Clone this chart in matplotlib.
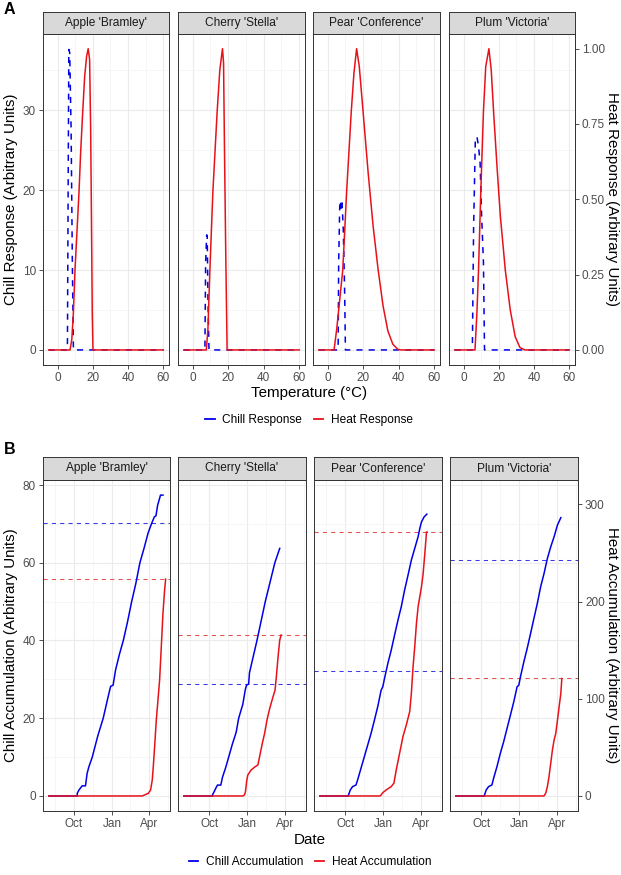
import numpy as np
import pandas as pd
import matplotlib
matplotlib.use('Agg')
import matplotlib.pyplot as plt
from matplotlib.lines import Line2D
from matplotlib.ticker import FixedLocator

plt.rcParams['font.family'] = ['Liberation Sans', 'DejaVu Sans']

# ---------------- data ----------------
cultivars = ["Apple 'Bramley'", "Cherry 'Stella'", "Pear 'Conference'", "Plum 'Victoria'"]

# Panel A: response curves vs temperature (deg C)
apple_chill_T = [-5, 5.6, 6.0, 6.4, 6.9, 7.7, 8.4, 9.0, 60]
apple_chill_v = [0, 0, 19.3, 37.6, 37.2, 27.6, 10.9, 0, 0]
apple_heat_T = [-5, 7.1, 8.1, 9.0, 9.9, 11.1, 12.2, 13.1, 14.3, 15.4, 16.5, 17.4, 18.2, 18.8, 19.3, 19.7, 20.1, 60]
apple_heat_v = [0, 0, 0.035, 0.124, 0.265, 0.40, 0.527, 0.654, 0.792, 0.908, 0.975, 1.0, 0.964, 0.731, 0.40, 0.124, 0, 0]

cherry_chill_T = [-5, 6.9, 7.3, 7.9, 8.2, 8.6, 9.2, 60]
cherry_chill_v = [0, 0, 10.9, 14.4, 14.3, 6.6, 0, 0]
cherry_heat_T = [-5, 7.7, 8.6, 9.7, 11.4, 13.8, 15.3, 16.8, 17.4, 17.9, 18.7, 19.4, 60]
cherry_heat_v = [0, 0, 0.069, 0.265, 0.527, 0.792, 0.930, 1.0, 0.952, 0.676, 0.29, 0, 0]

pear_chill_T = [-5, 5.9, 6.2, 6.8, 7.2, 7.5, 8.1, 8.8, 9.6, 10.0, 60]
pear_chill_v = [0, 0, 10.9, 18.0, 18.7, 17.6, 18.4, 15.1, 6.8, 0, 0]
pear_heat_T = [-5, 3.6, 5.1, 7.0, 8.5, 10.7, 13.3, 14.8, 16.3, 17.8, 20.0, 22.8, 25.6, 28.4, 31.2, 33.9, 36.7, 39.5, 41.4, 60]
pear_heat_v = [0, 0, 0.069, 0.179, 0.265, 0.527, 0.792, 0.919, 1.0, 0.941, 0.787, 0.588, 0.411, 0.267, 0.146, 0.063, 0.019, 0.002, 0, 0]

plum_chill_T = [-5, 5.0, 5.7, 6.7, 7.6, 8.5, 9.4, 10.2, 11.3, 11.9, 60]
plum_chill_v = [0, 0, 15.1, 26.4, 26.7, 25.5, 23.4, 17.2, 10.9, 0, 0]
plum_heat_T = [-5, 6.5, 7.6, 8.5, 9.8, 11.3, 12.6, 14.4, 15.7, 17.2, 19.1, 20.9, 23.7, 26.5, 29.3, 32.0, 34.8, 60]
plum_heat_v = [0, 0, 0.124, 0.265, 0.527, 0.792, 0.941, 1.0, 0.930, 0.776, 0.599, 0.444, 0.265, 0.133, 0.044, 0.008, 0, 0]

# Panel B: accumulation vs date (days after 1 October)
apple_chill_d = [-61, 8, 8.1, 12, 20, 28, 32, 36, 44.5, 58, 71, 84, 89, 95, 101, 110, 120, 130, 140, 150, 160, 170, 180, 188, 195, 199, 203, 210, 216]
apple_chill_acc = [0, 0, 0.7, 1.5, 2.6, 2.6, 5.8, 7.4, 10, 15.5, 20, 26, 28.2, 28.5, 32.4, 36.3, 40.1, 44.8, 50, 54.6, 60, 63.7, 67.7, 70, 71.8, 72.1, 74.8, 77.4, 77.4]
apple_heat_d = [-61, 165.8, 180.3, 186, 190, 192.5, 195.7, 199.8, 203.8, 207.8, 211.9, 215.9, 219.9, 222.4]
apple_heat_acc = [0, 0, 2.7, 6.2, 16.5, 30.2, 50.7, 78.2, 98.7, 119.3, 153.6, 187.8, 211.8, 223.1]

cherry_chill_d = [-61, 8.1, 8.1, 12, 16, 20, 28, 32, 40, 48, 56, 65, 71, 81, 87, 90, 95, 97, 115, 135, 158, 169.8]
cherry_chill_acc = [0, 0, 0.3, 1.1, 2, 2.8, 2.8, 4.8, 7.4, 10.4, 13.4, 16.4, 20, 23.6, 27.4, 28.5, 28.8, 31.7, 40, 50, 60, 63.7]
cherry_heat_d = [-61, 80.9, 84.9, 87.3, 90.6, 93, 101.1, 109.2, 117.3, 121.3, 127.8, 133.4, 139.1, 145.6, 153.6, 158.5, 161.7, 165.8, 169.8, 173]
cherry_heat_acc = [0, 0, 1, 4.4, 16.4, 21.6, 26.8, 29.6, 32, 40.4, 54, 64.4, 78, 90, 102, 108.8, 122.8, 143.2, 160.4, 165.6]

pear_chill_d = [-61, 8.1, 8.1, 12.1, 17.8, 25.9, 29.9, 38, 46.1, 54.2, 62.3, 70.4, 78.4, 86.5, 90.6, 94.6, 102.7, 110.8, 118.9, 127, 135, 143.1, 151.2, 159.3, 167.4, 175.5, 179.5, 183.6, 190, 196.5]
pear_chill_acc = [0, 0, 0.26, 1.5, 2.4, 2.8, 4.1, 7.1, 10.1, 13.1, 16.1, 19.5, 23, 27.2, 28.1, 30.2, 34.1, 37.5, 41.4, 45.2, 48.7, 53, 56.8, 60.7, 63.7, 66.7, 68.8, 70.5, 71.8, 72.5]
pear_heat_d = [-61, 84.1, 86.5, 90.6, 98.7, 110.8, 117.3, 122.9, 131, 139.1, 147.2, 155.3, 159.3, 163.3, 167.4, 171.5, 175.5, 179.5, 183.6, 187.6, 191.7, 195.7, 197.3]
pear_heat_acc = [0, 0, 1.0, 3.4, 6.2, 9.6, 13.2, 26.8, 44, 61.2, 73.2, 86.8, 105.6, 132.8, 153.6, 177.6, 194.8, 204.8, 215.2, 228.8, 249.6, 271.6, 271.6]

plum_chill_d = [-61, 8.1, 8.1, 12.1, 17.8, 25.9, 29.9, 38, 46.1, 54.2, 62.3, 70.4, 78.4, 86.5, 90.6, 94.6, 102.7, 110.8, 118.9, 127, 135, 143.1, 151.2, 159.3, 167.4, 175.5, 183.6, 191.7]
plum_chill_acc = [0, 0, 0.26, 1.54, 2.4, 2.83, 4.54, 7.54, 10.97, 13.97, 17.4, 20.8, 24.2, 28.1, 28.5, 30.7, 34.5, 38, 41.8, 45.7, 49.5, 53.8, 57.2, 61.1, 64.1, 66.7, 69.7, 71.6]
plum_heat_d = [-61, 151.2, 155.3, 159.3, 163.3, 167.4, 171.4, 175.5, 179.5, 183.6, 187.6, 191.7, 194.1]
plum_heat_acc = [0, 0, 2.8, 9.6, 20, 33.6, 47.2, 57.6, 64.4, 78, 92, 105.6, 120.8]

# requirement thresholds
chill_requirement = [70.3, 28.8, 32.2, 60.7]
heat_requirement = [223.0, 165.6, 271.6, 121.0]

# ---------------- layout ----------------
W, H = 621, 875
BLUE = '#0000E6'
RED = '#E8111A'
BLUE_T = '#3A3AE8'
RED_T = '#E85050'
BORDER = '#333333'
TICKLAB = '#4D4D4D'
TICK_FS = 8.5
TITLE_FS = 10.9
HEAT_RESP_SCALE = 37.7   # chill units per heat-response unit (panel A)
HEAT_ACC_SCALE = 4.0     # heat units per chill unit (panel B)

fig = plt.figure(figsize=(W / 100, H / 100), dpi=100)
fig.patch.set_facecolor('white')


def rect(l, t, r, b):
    return [l / W, 1 - b / H, (r - l) / W, (b - t) / H]


def style(ax):
    ax.set_facecolor('white')
    for s in ax.spines.values():
        s.set_color(BORDER)
        s.set_linewidth(0.7)
    ax.grid(which='major', color='#EBEBEB', lw=0.8)
    ax.grid(which='minor', color='#F3F3F3', lw=0.5)
    ax.set_axisbelow(True)
    ax.tick_params(which='major', length=3, width=0.6, color=BORDER,
                   labelsize=TICK_FS, labelcolor=TICKLAB, pad=2)
    ax.tick_params(which='minor', length=0)


def strip(r, text):
    sa = fig.add_axes(r)
    sa.set_facecolor('#D9D9D9')
    sa.set_xticks([])
    sa.set_yticks([])
    for s in sa.spines.values():
        s.set_color(BORDER)
        s.set_linewidth(0.7)
    sa.text(0.5, 0.5, text, ha='center', va='center', fontsize=8.6,
            color='#1A1A1A', transform=sa.transAxes)


def style_sec(sec):
    sec.tick_params(length=3, width=0.6, color=BORDER, labelsize=TICK_FS,
                    labelcolor=TICKLAB, pad=2)
    sec.spines['right'].set_color(BORDER)
    sec.spines['right'].set_linewidth(0.7)


# ---------- Panel A ----------
colsA = [(43, 169), (178, 305), (313, 440), (449, 575)]
topA, botA, stripA = 33.5, 365, 12
chill_T = [apple_chill_T, cherry_chill_T, pear_chill_T, plum_chill_T]
chill_v = [apple_chill_v, cherry_chill_v, pear_chill_v, plum_chill_v]
heat_T = [apple_heat_T, cherry_heat_T, pear_heat_T, plum_heat_T]
heat_v = [apple_heat_v, cherry_heat_v, pear_heat_v, plum_heat_v]

for i, (l, r) in enumerate(colsA):
    ax = fig.add_axes(rect(l, topA, r, botA))
    style(ax)
    ax.plot(chill_T[i], chill_v[i], color=BLUE, lw=1.1, ls=(0, (4, 4)))
    ax.plot(heat_T[i], np.array(heat_v[i]) * HEAT_RESP_SCALE, color=RED, lw=1.1)
    ax.set_xlim(-8.25, 63.25)
    ax.set_ylim(-1.885, 39.6)
    ax.xaxis.set_major_locator(FixedLocator([0, 20, 40, 60]))
    ax.xaxis.set_minor_locator(FixedLocator([10, 30, 50]))
    ax.yaxis.set_major_locator(FixedLocator([0, 10, 20, 30]))
    ax.yaxis.set_minor_locator(FixedLocator([5, 15, 25, 35]))
    if i > 0:
        ax.tick_params(axis='y', left=False, labelleft=False)
    if i == 3:
        sec = ax.secondary_yaxis('right', functions=(lambda y: y / HEAT_RESP_SCALE,
                                                      lambda h: h * HEAT_RESP_SCALE))
        sec.set_yticks([0, 0.25, 0.5, 0.75, 1.0])
        sec.set_yticklabels(['0.00', '0.25', '0.50', '0.75', '1.00'])
        style_sec(sec)
    strip(rect(l, stripA, r, topA), cultivars[i])

fig.text(4 / W, 1 - 10 / H, 'A', fontsize=11.5, fontweight='bold', va='center', ha='left')
fig.text(11 / W, 1 - (topA + botA) / 2 / H, 'Chill Response (Arbitrary Units)',
         rotation=90, va='center', ha='center', fontsize=TITLE_FS)
fig.text(612 / W, 1 - (topA + botA) / 2 / H, 'Heat Response (Arbitrary Units)',
         rotation=-90, va='center', ha='center', fontsize=TITLE_FS)
fig.text(309 / W, 1 - 393 / H, 'Temperature (°C)', va='center', ha='center', fontsize=TITLE_FS)

hA = [Line2D([], [], color=BLUE, lw=1.3), Line2D([], [], color=RED, lw=1.3)]
fig.legend(hA, ['Chill Response', 'Heat Response'], loc='center',
           bbox_to_anchor=(309 / W, 1 - 420 / H), ncol=2, frameon=False,
           fontsize=8.6, handlelength=0.8, columnspacing=1.0, handletextpad=0.6)

# ---------- Panel B ----------
colsB = [(43, 170), (178, 306), (314, 442), (450, 578)]
topB, botB, stripB = 480, 811, 457
base = pd.Timestamp('2018-10-01')


def to_dates(days):
    return base + pd.to_timedelta(np.array(days, dtype=float), unit='D')


chill_d = [apple_chill_d, cherry_chill_d, pear_chill_d, plum_chill_d]
chill_acc = [apple_chill_acc, cherry_chill_acc, pear_chill_acc, plum_chill_acc]
heat_d = [apple_heat_d, cherry_heat_d, pear_heat_d, plum_heat_d]
heat_acc = [apple_heat_acc, cherry_heat_acc, pear_heat_acc, plum_heat_acc]

major_dates = [pd.Timestamp('2018-10-01'), pd.Timestamp('2019-01-01'), pd.Timestamp('2019-04-01')]
minor_dates = [pd.Timestamp('2018-08-16'), pd.Timestamp('2018-11-16'),
               pd.Timestamp('2019-02-15'), pd.Timestamp('2019-05-16')]

for i, (l, r) in enumerate(colsB):
    ax = fig.add_axes(rect(l, topB, r, botB))
    ax.axhline(chill_requirement[i], color=BLUE_T, lw=0.75, ls=(0, (4, 4)))
    ax.axhline(heat_requirement[i] / HEAT_ACC_SCALE, color=RED_T, lw=0.75, ls=(0, (4, 4)))
    ax.plot(to_dates(chill_d[i]), chill_acc[i], color=BLUE, lw=1.1)
    ax.plot(to_dates(heat_d[i]), np.array(heat_acc[i]) / HEAT_ACC_SCALE, color=RED, lw=1.1)
    ax.set_xlim(pd.Timestamp('2018-07-18'), pd.Timestamp('2019-05-22'))
    ax.set_ylim(-3.87, 81.29)
    ax.set_xticks(major_dates)
    ax.set_xticklabels(['Oct', 'Jan', 'Apr'])
    ax.set_xticks(minor_dates, minor=True)
    ax.yaxis.set_major_locator(FixedLocator([0, 20, 40, 60, 80]))
    ax.yaxis.set_minor_locator(FixedLocator([10, 30, 50, 70]))
    style(ax)
    if i > 0:
        ax.tick_params(axis='y', left=False, labelleft=False)
    if i == 3:
        sec = ax.secondary_yaxis('right', functions=(lambda y: y * HEAT_ACC_SCALE,
                                                      lambda h: h / HEAT_ACC_SCALE))
        sec.set_yticks([0, 100, 200, 300])
        style_sec(sec)
    strip(rect(l, stripB, r, topB), cultivars[i])

fig.text(4 / W, 1 - 449 / H, 'B', fontsize=11.5, fontweight='bold', va='center', ha='left')
fig.text(11 / W, 1 - (topB + botB) / 2 / H, 'Chill Accumulation (Arbitrary Units)',
         rotation=90, va='center', ha='center', fontsize=TITLE_FS)
fig.text(612 / W, 1 - (topB + botB) / 2 / H, 'Heat Accumulation (Arbitrary Units)',
         rotation=-90, va='center', ha='center', fontsize=TITLE_FS)
fig.text(310 / W, 1 - 840 / H, 'Date', va='center', ha='center', fontsize=TITLE_FS)

hB = [Line2D([], [], color=BLUE, lw=1.3), Line2D([], [], color=RED, lw=1.3)]
fig.legend(hB, ['Chill Accumulation', 'Heat Accumulation'], loc='center',
           bbox_to_anchor=(310 / W, 1 - 862 / H), ncol=2, frameon=False,
           fontsize=8.6, handlelength=0.8, columnspacing=1.0, handletextpad=0.6)

fig.savefig('out.png', dpi=100, facecolor='white')
